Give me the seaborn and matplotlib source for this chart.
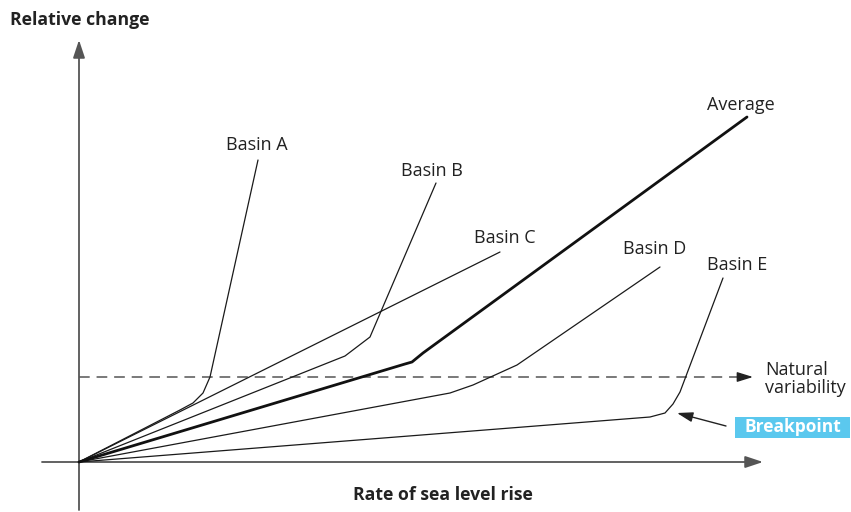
import matplotlib
matplotlib.use("Agg")
import matplotlib.pyplot as plt
import seaborn as sns
import pandas as pd
from matplotlib.patches import Rectangle

sns.set_theme(style="white")
plt.rcParams['font.family'] = ['Open Sans', 'DejaVu Sans']

# ---- data (conceptual units; origin at the axes crossing) ----
basin_a_x = [0, 101, 114, 124, 131, 179]
basin_a_y = [0, 52, 59, 69, 85, 302]
basin_b_x = [0, 266, 291, 357]
basin_b_y = [0, 106, 125, 279]
basin_c_x = [0, 421]
basin_c_y = [0, 210]
basin_d_x = [0, 371, 394, 438, 581]
basin_d_y = [0, 69, 77, 97, 195]
basin_e_x = [0, 571, 586, 594, 601, 644]
basin_e_y = [0, 45, 49, 58, 70, 184]
average_x = [0, 326, 333, 344, 668]
average_y = [0, 98, 100, 109, 345]
natural_variability = 85

labels = {
    "Basin A": (178, 317),
    "Basin B": (353, 291),
    "Basin C": (426, 224),
    "Basin D": (576, 213),
    "Basin E": (658, 197),
    "Average": (662, 357),
}

fig = plt.figure(figsize=(8.51, 5.12), dpi=100)
ax = fig.add_axes([0, 0, 1, 1])
ax.set_xlim(-79, 772)
ax.set_ylim(-50, 462)
ax.axis("off")

thin = dict(color="#1a1a1a", linewidth=0.9)
for xs, ys in [(basin_a_x, basin_a_y), (basin_b_x, basin_b_y), (basin_c_x, basin_c_y),
               (basin_d_x, basin_d_y), (basin_e_x, basin_e_y)]:
    sns.lineplot(x=xs, y=ys, ax=ax, sort=False, estimator=None, **thin)
sns.lineplot(x=average_x, y=average_y, ax=ax, sort=False, estimator=None,
             color="#111111", linewidth=2.0)

# axes with arrows
axis_col = "#555555"
ax.annotate("", xy=(0, 422), xytext=(0, -48),
            arrowprops=dict(arrowstyle="-|>,head_length=0.9,head_width=0.3",
                            color=axis_col, lw=1.3, shrinkA=0, shrinkB=0), zorder=1)
ax.annotate("", xy=(684, 0), xytext=(-37, 0),
            arrowprops=dict(arrowstyle="-|>,head_length=0.9,head_width=0.3",
                            color=axis_col, lw=1.3, shrinkA=0, shrinkB=0), zorder=1)

# natural variability dashed line with arrow
ax.plot([0, 662], [natural_variability, natural_variability], color=axis_col,
        lw=1.1, dashes=(7, 4.5), zorder=1)
ax.annotate("", xy=(674, natural_variability), xytext=(660, natural_variability),
            arrowprops=dict(arrowstyle="-|>,head_length=0.8,head_width=0.25",
                            color="#222222", lw=1.0, shrinkA=0, shrinkB=0))

# breakpoint arrow
ax.annotate("", xy=(598, 49), xytext=(647, 36),
            arrowprops=dict(arrowstyle="-|>,head_length=0.8,head_width=0.25",
                            color="#222222", lw=1.0, shrinkA=0, shrinkB=0))

# labels
for name, (lx, ly) in labels.items():
    ax.text(lx, ly, name, ha="center", va="center", fontsize=13, color="#222222")
ax.text(686, 83, "Natural\nvariability", ha="left", va="center", fontsize=13,
        color="#222222", linespacing=1.0)

ax.text(-69, 442, "Relative change", ha="left", va="center", fontsize=12.7,
        fontweight="bold", color="#222222")
ax.text(364, -33, "Rate of sea level rise", ha="center", va="center", fontsize=12.7,
        fontweight="bold", color="#222222")

ax.add_patch(Rectangle((656, 24), 115, 21, facecolor="#5bc8ee", edgecolor="none"))
ax.text(713.5, 34.5, "Breakpoint", ha="center", va="center", fontsize=12.5,
        fontweight="bold", color="white")

fig.savefig("out.png", dpi=100)
